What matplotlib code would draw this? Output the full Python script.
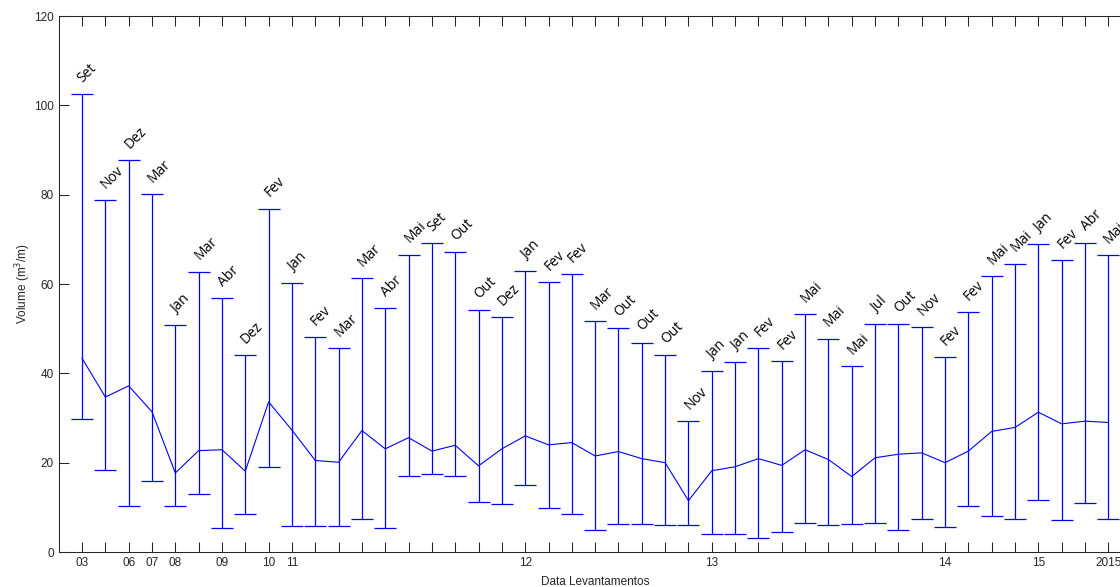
import matplotlib
matplotlib.use("Agg")
import matplotlib.pyplot as plt
import numpy as np

# ----------------------------
# Data
# ----------------------------
months = ["Set", "Nov", "Dez", "Mar", "Jan", "Mar", "Abr", "Dez", "Fev", "Jan",
          "Fev", "Mar", "Mar", "Abr", "Mai", "Set", "Out", "Out", "Dez", "Jan",
          "Fev", "Fev", "Mar", "Out", "Out", "Out", "Nov", "Jan", "Jan", "Fev",
          "Fev", "Mai", "Mai", "Mai", "Jul", "Out", "Nov", "Fev", "Fev", "Mai",
          "Mai", "Jan", "Fev", "Abr", "Mai"]

vol_mean = [43.4, 34.7, 37.2, 31.4, 17.7, 22.7, 22.9, 18.1, 33.6, 27.3,
            20.5, 20.1, 27.2, 23.1, 25.6, 22.6, 23.9, 19.3, 23.1, 26.0,
            24.0, 24.5, 21.5, 22.5, 20.9, 20.0, 11.5, 18.2, 19.1, 20.9,
            19.4, 22.9, 20.7, 16.9, 21.1, 21.9, 22.2, 20.0, 22.6, 27.0,
            27.9, 31.3, 28.7, 29.3, 29.0]

vol_upper = [102.6, 78.9, 87.7, 80.1, 50.8, 62.8, 56.9, 44.2, 76.9, 60.3,
             48.2, 45.6, 61.3, 54.7, 66.6, 69.1, 67.1, 54.2, 52.6, 63.0,
             60.5, 62.2, 51.7, 50.1, 46.9, 44.2, 29.3, 40.6, 42.5, 45.6,
             42.7, 53.3, 47.8, 41.7, 51.0, 51.0, 50.3, 43.6, 53.7, 61.7,
             64.6, 68.9, 65.3, 69.3, 66.4]

vol_lower = [29.7, 18.4, 10.2, 15.9, 10.2, 13.0, 5.4, 8.4, 19.1, 5.8,
             5.8, 5.8, 7.3, 5.4, 17.0, 17.5, 17.0, 11.3, 10.7, 15.0,
             9.8, 8.4, 4.9, 6.2, 6.2, 6.0, 6.0, 4.0, 4.0, 3.1,
             4.4, 6.4, 6.0, 6.2, 6.6, 4.9, 7.5, 5.5, 10.2, 8.0,
             7.5, 11.6, 7.1, 11.0, 7.5]

# x tick labels (blank = tick without label)
xtick_labels = ["03", "", "06", "07", "08", "", "09", "", "10", "11",
                "", "", "", "", "", "", "", "", "", "12",
                "", "", "", "", "", "", "", "13", "", "",
                "", "", "", "", "", "", "", "14", "", "",
                "", "15", "", "", "2015"]

BLUE = "#0000FF"
AXIS_GRAY = "#262626"

x = np.arange(1, len(vol_mean) + 1)
mean = np.array(vol_mean)
err_lo = mean - np.array(vol_lower)
err_hi = np.array(vol_upper) - mean

fig = plt.figure(figsize=(11.2, 5.87), dpi=100)
# axes run slightly past the right border, like the cropped original
ax = fig.add_axes([0.0524, 0.0596, 0.958, 0.913])

ax.errorbar(x, mean, yerr=[err_lo, err_hi], color=BLUE,
            linewidth=0.8, elinewidth=0.9, capsize=8, capthick=0.9)

for xi, top, lab in zip(x, vol_upper, months):
    ax.annotate(lab, (xi, top), xytext=(0.5, 8), textcoords="offset points",
                ha="left", va="baseline", rotation=45, rotation_mode="anchor",
                fontsize=10, family=["Open Sans", "DejaVu Sans"], color="black")

ax.set_xlim(0, len(x) + 1)
ax.set_ylim(0, 120)
ax.set_xticks(x)
ax.set_xticklabels(xtick_labels)
ax.set_yticks(np.arange(0, 121, 20))

ax.tick_params(axis="both", direction="in", length=7, width=0.75,
               top=True, right=True, colors=AXIS_GRAY, labelsize=8.5, pad=3.5)
for lab in ax.get_xticklabels() + ax.get_yticklabels():
    lab.set_family("Liberation Sans")
for sp in ax.spines.values():
    sp.set_color(AXIS_GRAY)
    sp.set_linewidth(0.75)

ax.set_xlabel("Data Levantamentos", fontsize=8.5, family="Liberation Sans",
              color=AXIS_GRAY, labelpad=5)
ax.set_ylabel("Volume (m$^3$/m)", fontsize=8.5, family="Liberation Sans",
              color=AXIS_GRAY, labelpad=1)

fig.savefig("out.png", dpi=100)
